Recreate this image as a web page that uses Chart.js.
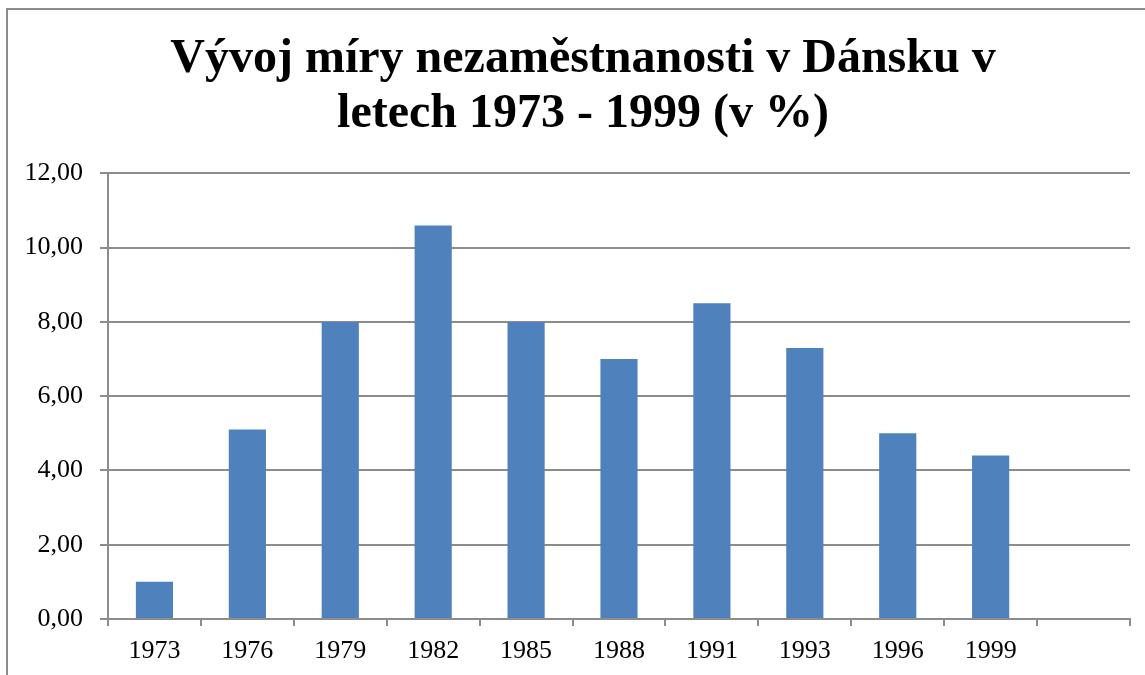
<!DOCTYPE html>
<html>
<head>
<meta charset="utf-8">
<script src="https://cdn.jsdelivr.net/npm/chart.js@4"></script>
<style>
  html, body { margin: 0; padding: 0; background: #fff; overflow: hidden; }
  #ramecek { position: absolute; left: 6px; top: 8px; width: 1200px; height: 700px; border: 2px solid #8c8c8c; }
  #obal { position: absolute; left: 0; top: 0; width: 1166px; height: 675px; }
</style>
</head>
<body>
<div id="ramecek"></div>
<div id="obal"><canvas id="graf"></canvas></div>
<script>
// Roky a míra nezaměstnanosti (v %), poslední sloupec je v originále prázdný
const roky = ['1973', '1976', '1979', '1982', '1985', '1988', '1991', '1993', '1996', '1999', ''];
const miraNezamestnanosti = [1.0, 5.1, 8.0, 10.6, 8.0, 7.0, 8.5, 7.3, 5.0, 4.4, null];
const nadpis = ['Vývoj míry nezaměstnanosti v Dánsku v', 'letech 1973 - 1999 (v %)'];

const seda = '#8c8c8c';
const pismo = "'Liberation Serif', 'Times New Roman', serif";

// Vytvoření sloupcového grafu
function vytvorGraf() {
    const ctx = document.getElementById('graf').getContext('2d');
    return new Chart(ctx, {
        type: 'bar',
        data: {
            labels: roky,
            datasets: [{
                label: 'Míra nezaměstnanosti',
                data: miraNezamestnanosti,
                backgroundColor: '#4f81bd',
                borderWidth: 0,
                categoryPercentage: 1,
                barPercentage: 0.4
            }]
        },
        options: {
            responsive: true,
            maintainAspectRatio: false,
            animation: false,
            layout: { padding: 0 },
            plugins: {
                legend: { display: false },
                tooltip: { enabled: false },
                title: {
                    display: true,
                    text: nadpis,
                    color: '#000',
                    font: { family: pismo, size: 48, weight: 'bold', lineHeight: 1.15 },
                    padding: { top: 32, bottom: 31 }
                }
            },
            scales: {
                x: {
                    grid: { drawOnChartArea: false, drawTicks: true, tickLength: 7, color: seda, lineWidth: 2 },
                    border: { color: seda, width: 2 },
                    ticks: { color: '#000', font: { family: pismo, size: 26 }, padding: 10, maxRotation: 0 },
                    afterFit: (osa) => { osa.height = 56; }
                },
                y: {
                    min: 0,
                    max: 12,
                    ticks: {
                        stepSize: 2,
                        color: '#000',
                        font: { family: pismo, size: 26 },
                        padding: 17,
                        callback: (v) => v.toFixed(2).replace('.', ',')
                    },
                    grid: { color: seda, lineWidth: 2, tickLength: 8 },
                    border: { color: seda, width: 2 },
                    afterFit: (osa) => { osa.width = 108; }
                },
                // prázdná osa vpravo jen kvůli odsazení plochy grafu
                okraj: {
                    position: 'right',
                    grid: { display: false },
                    border: { display: false },
                    ticks: { display: false },
                    afterFit: (osa) => { osa.width = 36; }
                }
            }
        }
    });
}

window.onload = function() {
    vytvorGraf();
};
</script>
</body>
</html>
